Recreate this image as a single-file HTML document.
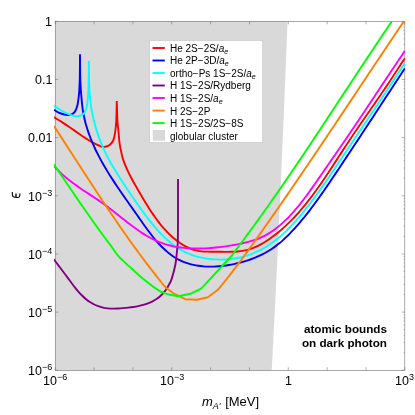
<!DOCTYPE html>
<html><head><meta charset="utf-8">
<style>
html,body{margin:0;padding:0;background:#fff;}
body{width:415px;height:415px;overflow:hidden;position:relative;font-family:"Liberation Sans",sans-serif;color:#000;}
svg{position:absolute;left:0;top:0;}
.t{position:absolute;will-change:transform;font-size:12.5px;line-height:1;white-space:nowrap;}
.t sup{font-size:9px;vertical-align:baseline;position:relative;top:-4.6px;}
.leg{position:absolute;will-change:transform;font-size:10px;line-height:1;white-space:nowrap;left:170.4px;}
.leg i sub{font-size:7px;vertical-align:baseline;position:relative;top:2px;}
</style></head><body>
<svg width="415" height="415" viewBox="0 0 415 415">
<rect x="0" y="0" width="415" height="415" fill="#fff"/>
<polygon points="55.25,21.3 287.5,21.3 286,60 284.4,100 282.7,140 280,200 277.3,260 274.6,315 271.7,370.3 55.25,370.3" fill="#d9d9d9"/>
<g stroke="#7a7a7a" stroke-width="0.6" fill="none">
<path d="M55.25,370.30 v-3 M55.25,21.30 v3"/>
<path d="M94.09,370.30 v-3 M94.09,21.30 v3"/>
<path d="M132.93,370.30 v-3 M132.93,21.30 v3"/>
<path d="M171.77,370.30 v-3 M171.77,21.30 v3"/>
<path d="M210.61,370.30 v-3 M210.61,21.30 v3"/>
<path d="M249.44,370.30 v-3 M249.44,21.30 v3"/>
<path d="M288.28,370.30 v-3 M288.28,21.30 v3"/>
<path d="M327.12,370.30 v-3 M327.12,21.30 v3"/>
<path d="M365.96,370.30 v-3 M365.96,21.30 v3"/>
<path d="M404.80,370.30 v-3 M404.80,21.30 v3"/>
<path d="M55.25,21.30 h3 M404.80,21.30 h-3"/>
<path d="M55.25,79.47 h3 M404.80,79.47 h-3"/>
<path d="M55.25,137.63 h3 M404.80,137.63 h-3"/>
<path d="M55.25,195.80 h3 M404.80,195.80 h-3"/>
<path d="M55.25,253.97 h3 M404.80,253.97 h-3"/>
<path d="M55.25,312.13 h3 M404.80,312.13 h-3"/>
<path d="M55.25,370.30 h3 M404.80,370.30 h-3"/>
<path d="M404.80,61.96 h-1.6" opacity="0.6"/>
<path d="M404.80,51.71 h-1.6" opacity="0.6"/>
<path d="M404.80,44.45 h-1.6" opacity="0.6"/>
<path d="M404.80,38.81 h-1.6" opacity="0.6"/>
<path d="M404.80,34.20 h-1.6" opacity="0.6"/>
<path d="M404.80,30.31 h-1.6" opacity="0.6"/>
<path d="M404.80,26.94 h-1.6" opacity="0.6"/>
<path d="M404.80,23.96 h-1.6" opacity="0.6"/>
<path d="M404.80,120.12 h-1.6" opacity="0.6"/>
<path d="M404.80,109.88 h-1.6" opacity="0.6"/>
<path d="M404.80,102.61 h-1.6" opacity="0.6"/>
<path d="M404.80,96.98 h-1.6" opacity="0.6"/>
<path d="M404.80,92.37 h-1.6" opacity="0.6"/>
<path d="M404.80,88.48 h-1.6" opacity="0.6"/>
<path d="M404.80,85.10 h-1.6" opacity="0.6"/>
<path d="M404.80,82.13 h-1.6" opacity="0.6"/>
<path d="M404.80,178.29 h-1.6" opacity="0.6"/>
<path d="M404.80,168.05 h-1.6" opacity="0.6"/>
<path d="M404.80,160.78 h-1.6" opacity="0.6"/>
<path d="M404.80,155.14 h-1.6" opacity="0.6"/>
<path d="M404.80,150.54 h-1.6" opacity="0.6"/>
<path d="M404.80,146.64 h-1.6" opacity="0.6"/>
<path d="M404.80,143.27 h-1.6" opacity="0.6"/>
<path d="M404.80,140.29 h-1.6" opacity="0.6"/>
<path d="M404.80,236.46 h-1.6" opacity="0.6"/>
<path d="M404.80,226.21 h-1.6" opacity="0.6"/>
<path d="M404.80,218.95 h-1.6" opacity="0.6"/>
<path d="M404.80,213.31 h-1.6" opacity="0.6"/>
<path d="M404.80,208.70 h-1.6" opacity="0.6"/>
<path d="M404.80,204.81 h-1.6" opacity="0.6"/>
<path d="M404.80,201.44 h-1.6" opacity="0.6"/>
<path d="M404.80,198.46 h-1.6" opacity="0.6"/>
<path d="M404.80,294.62 h-1.6" opacity="0.6"/>
<path d="M404.80,284.38 h-1.6" opacity="0.6"/>
<path d="M404.80,277.11 h-1.6" opacity="0.6"/>
<path d="M404.80,271.48 h-1.6" opacity="0.6"/>
<path d="M404.80,266.87 h-1.6" opacity="0.6"/>
<path d="M404.80,262.98 h-1.6" opacity="0.6"/>
<path d="M404.80,259.60 h-1.6" opacity="0.6"/>
<path d="M404.80,256.63 h-1.6" opacity="0.6"/>
<path d="M404.80,352.79 h-1.6" opacity="0.6"/>
<path d="M404.80,342.55 h-1.6" opacity="0.6"/>
<path d="M404.80,335.28 h-1.6" opacity="0.6"/>
<path d="M404.80,329.64 h-1.6" opacity="0.6"/>
<path d="M404.80,325.04 h-1.6" opacity="0.6"/>
<path d="M404.80,321.14 h-1.6" opacity="0.6"/>
<path d="M404.80,317.77 h-1.6" opacity="0.6"/>
<path d="M404.80,314.79 h-1.6" opacity="0.6"/>
</g>
<rect x="55.25" y="21.3" width="349.55" height="349.0" fill="none" stroke="#707070" stroke-width="0.6"/>
<defs><clipPath id="c"><rect x="54.0" y="20.6" width="351.5" height="349.9"/></clipPath></defs>
<g clip-path="url(#c)" fill="none" stroke-width="1.9" stroke-linejoin="round" stroke-linecap="butt">
<path d="M53.80,117.04 C54.51,117.49 56.64,118.83 58.06,119.72 C59.47,120.60 60.89,121.47 62.30,122.37 C63.71,123.27 65.10,124.19 66.50,125.13 C67.90,126.06 69.30,127.01 70.69,127.96 C72.09,128.92 73.48,129.88 74.88,130.85 C76.27,131.82 77.67,132.79 79.07,133.76 C80.48,134.73 81.88,135.71 83.30,136.67 C84.71,137.64 86.13,138.62 87.57,139.54 C89.00,140.47 90.44,141.40 91.91,142.20 C93.37,143.01 94.85,143.70 96.35,144.38 C97.85,145.06 99.43,145.90 100.90,146.30 C102.37,146.70 103.75,147.03 105.20,146.80 C106.65,146.57 108.27,145.95 109.60,144.90 C110.93,143.85 112.28,142.55 113.20,140.50 C114.12,138.45 114.59,135.85 115.10,132.60 C115.61,129.35 115.97,126.25 116.25,121.00 C116.53,115.75 116.71,104.42 116.80,101.10 M116.80,101.10 C116.91,104.42 117.15,115.75 117.45,121.00 C117.75,126.25 118.22,128.73 118.60,132.60 C118.97,136.47 119.15,140.47 119.70,144.20 C120.25,147.93 121.31,152.38 121.90,155.00 C122.49,157.62 122.74,158.33 123.26,159.92 C123.77,161.51 124.38,163.02 125.00,164.55 C125.61,166.08 126.27,167.60 126.95,169.10 C127.62,170.61 128.34,172.10 129.07,173.59 C129.81,175.08 130.57,176.56 131.35,178.04 C132.12,179.51 132.93,180.98 133.74,182.44 C134.55,183.91 135.38,185.37 136.22,186.83 C137.05,188.29 137.90,189.75 138.75,191.21 C139.60,192.67 140.46,194.13 141.32,195.59 C142.18,197.05 143.04,198.52 143.91,199.97 C144.78,201.43 145.66,202.89 146.55,204.33 C147.44,205.78 148.34,207.22 149.25,208.65 C150.17,210.08 151.09,211.50 152.04,212.90 C152.98,214.30 153.93,215.70 154.91,217.07 C155.89,218.44 156.88,219.80 157.90,221.14 C158.91,222.48 159.95,223.80 161.01,225.09 C162.07,226.38 163.16,227.65 164.27,228.89 C165.38,230.13 166.52,231.35 167.68,232.54 C168.85,233.72 170.05,234.88 171.28,236.00 C172.50,237.12 173.76,238.21 175.06,239.26 C176.35,240.31 177.68,241.34 179.05,242.30 C180.41,243.27 181.82,244.21 183.25,245.07 C184.69,245.93 186.15,246.74 187.65,247.45 C189.15,248.17 190.68,248.81 192.24,249.34 C193.79,249.88 195.38,250.30 196.99,250.64 C198.60,250.97 200.24,251.18 201.89,251.35 C203.54,251.52 205.22,251.59 206.90,251.65 C208.59,251.72 210.30,251.71 212.00,251.72 C213.71,251.74 215.43,251.72 217.15,251.74 C218.87,251.75 220.60,251.79 222.32,251.81 C224.05,251.83 225.77,251.87 227.49,251.87 C229.20,251.87 230.92,251.87 232.62,251.81 C234.32,251.75 236.01,251.67 237.68,251.52 C239.36,251.38 241.02,251.19 242.66,250.91 C244.30,250.63 245.92,250.29 247.52,249.87 C249.11,249.44 250.69,248.93 252.24,248.35 C253.79,247.78 255.32,247.13 256.83,246.43 C258.34,245.72 259.82,244.95 261.29,244.14 C262.75,243.34 264.19,242.47 265.62,241.57 C267.04,240.67 268.44,239.72 269.82,238.76 C271.20,237.79 272.55,236.79 273.89,235.77 C275.23,234.76 276.55,233.72 277.84,232.66 C279.14,231.60 280.42,230.53 281.68,229.43 C282.94,228.34 284.18,227.22 285.40,226.09 C286.62,224.96 287.83,223.82 289.02,222.65 C290.21,221.49 291.38,220.31 292.53,219.11 C293.69,217.92 294.83,216.71 295.96,215.49 C297.08,214.26 298.19,213.02 299.29,211.77 C300.39,210.52 301.48,209.26 302.55,207.98 C303.62,206.70 304.68,205.42 305.73,204.12 C306.78,202.82 307.81,201.51 308.84,200.19 C309.87,198.87 310.88,197.53 311.89,196.20 C312.89,194.86 313.89,193.51 314.88,192.15 C315.87,190.80 316.84,189.43 317.82,188.06 C318.79,186.69 319.75,185.31 320.71,183.93 C321.67,182.55 322.62,181.16 323.57,179.76 C324.51,178.37 325.46,176.97 326.39,175.57 C327.33,174.16 328.26,172.76 329.19,171.35 C330.12,169.94 331.04,168.52 331.97,167.11 C332.89,165.70 333.81,164.28 334.73,162.86 C335.65,161.45 336.56,160.03 337.48,158.61 C338.40,157.20 339.32,155.78 340.23,154.37 C341.15,152.95 342.07,151.54 342.99,150.13 C343.91,148.72 344.83,147.31 345.75,145.90 C346.68,144.50 347.61,143.09 348.54,141.70 C349.47,140.30 350.40,138.90 351.33,137.51 C352.27,136.12 353.21,134.73 354.14,133.34 C355.08,131.96 356.03,130.57 356.97,129.19 C357.91,127.81 358.86,126.43 359.80,125.05 C360.75,123.67 361.69,122.30 362.64,120.92 C363.59,119.54 364.54,118.17 365.49,116.80 C366.43,115.42 367.38,114.05 368.33,112.67 C369.28,111.30 370.23,109.93 371.18,108.55 C372.13,107.18 373.08,105.81 374.03,104.43 C374.98,103.06 375.93,101.68 376.88,100.31 C377.82,98.93 378.77,97.55 379.71,96.17 C380.66,94.80 381.60,93.41 382.54,92.03 C383.49,90.65 384.43,89.26 385.37,87.88 C386.30,86.49 387.24,85.10 388.17,83.70 C389.11,82.31 390.04,80.91 390.97,79.51 C391.89,78.11 392.82,76.71 393.74,75.30 C394.67,73.90 395.59,72.49 396.50,71.07 C397.42,69.65 398.33,68.23 399.24,66.81 C400.15,65.38 401.02,63.92 401.95,62.52 C402.88,61.12 404.33,59.09 404.80,58.40" stroke="#ff0000"/>
<path d="M53.80,109.71 C54.61,110.19 56.88,111.80 58.66,112.60 C60.43,113.39 62.54,114.09 64.45,114.48 C66.35,114.86 68.41,115.28 70.10,114.90 C71.79,114.52 73.40,113.72 74.60,112.20 C75.80,110.68 76.58,108.67 77.30,105.80 C78.02,102.93 78.53,98.47 78.90,95.00 C79.28,91.53 79.39,88.32 79.55,85.00 C79.71,81.68 79.77,80.22 79.85,75.10 C79.92,69.98 79.97,57.77 80.00,54.30 M80.00,54.30 C80.03,57.77 80.11,69.98 80.20,75.10 C80.29,80.22 80.38,81.68 80.55,85.00 C80.72,88.32 80.89,90.93 81.25,95.00 C81.61,99.07 82.08,105.07 82.70,109.40 C83.33,113.73 84.38,118.22 85.00,121.00 C85.62,123.78 85.92,124.43 86.41,126.07 C86.89,127.71 87.38,129.25 87.90,130.83 C88.42,132.40 88.97,133.96 89.55,135.52 C90.12,137.07 90.72,138.61 91.34,140.14 C91.96,141.68 92.61,143.20 93.27,144.71 C93.94,146.23 94.63,147.73 95.33,149.23 C96.04,150.73 96.77,152.21 97.51,153.69 C98.26,155.18 99.03,156.65 99.81,158.11 C100.59,159.58 101.39,161.04 102.20,162.49 C103.01,163.94 103.84,165.39 104.69,166.82 C105.53,168.26 106.39,169.70 107.26,171.13 C108.13,172.55 109.01,173.98 109.90,175.39 C110.80,176.81 111.70,178.22 112.62,179.63 C113.53,181.04 114.45,182.45 115.39,183.85 C116.32,185.25 117.26,186.65 118.20,188.04 C119.15,189.44 120.10,190.83 121.06,192.22 C122.02,193.61 122.99,195.00 123.95,196.39 C124.92,197.77 125.89,199.16 126.86,200.54 C127.84,201.93 128.81,203.31 129.79,204.69 C130.76,206.07 131.74,207.46 132.72,208.84 C133.69,210.22 134.67,211.60 135.64,212.99 C136.61,214.37 137.58,215.76 138.55,217.14 C139.52,218.52 140.48,219.91 141.45,221.29 C142.42,222.67 143.38,224.06 144.36,225.43 C145.34,226.80 146.32,228.16 147.31,229.52 C148.31,230.87 149.31,232.22 150.33,233.54 C151.35,234.87 152.38,236.19 153.44,237.48 C154.50,238.78 155.57,240.06 156.67,241.32 C157.77,242.57 158.89,243.81 160.05,245.02 C161.20,246.23 162.38,247.41 163.59,248.56 C164.80,249.70 166.04,250.82 167.31,251.89 C168.58,252.96 169.88,253.99 171.21,254.95 C172.54,255.92 173.90,256.84 175.30,257.70 C176.70,258.55 178.13,259.34 179.59,260.07 C181.05,260.79 182.55,261.44 184.07,262.04 C185.60,262.63 187.15,263.16 188.72,263.63 C190.29,264.10 191.89,264.51 193.51,264.87 C195.12,265.22 196.76,265.52 198.41,265.76 C200.06,266.01 201.73,266.19 203.40,266.33 C205.08,266.48 206.76,266.56 208.45,266.61 C210.14,266.65 211.85,266.64 213.54,266.59 C215.24,266.55 216.95,266.45 218.65,266.32 C220.35,266.19 222.06,266.01 223.75,265.80 C225.45,265.58 227.15,265.33 228.83,265.05 C230.52,264.76 232.20,264.44 233.87,264.09 C235.54,263.73 237.20,263.35 238.85,262.93 C240.49,262.52 242.13,262.08 243.74,261.60 C245.36,261.13 246.96,260.62 248.55,260.08 C250.13,259.55 251.71,258.98 253.26,258.38 C254.81,257.77 256.34,257.14 257.86,256.47 C259.37,255.79 260.87,255.09 262.34,254.35 C263.82,253.60 265.27,252.82 266.70,252.00 C268.13,251.19 269.54,250.33 270.93,249.44 C272.32,248.54 273.68,247.60 275.02,246.63 C276.35,245.66 277.67,244.64 278.96,243.59 C280.25,242.54 281.52,241.46 282.77,240.35 C284.02,239.24 285.24,238.09 286.45,236.93 C287.66,235.77 288.85,234.58 290.03,233.37 C291.20,232.16 292.36,230.93 293.50,229.69 C294.64,228.45 295.77,227.19 296.88,225.92 C297.99,224.66 299.09,223.38 300.18,222.10 C301.27,220.81 302.34,219.52 303.41,218.22 C304.47,216.92 305.52,215.61 306.56,214.30 C307.61,212.98 308.64,211.66 309.66,210.33 C310.68,209.00 311.69,207.66 312.70,206.32 C313.70,204.98 314.70,203.63 315.69,202.28 C316.68,200.93 317.66,199.57 318.63,198.21 C319.61,196.84 320.57,195.48 321.54,194.11 C322.50,192.74 323.46,191.36 324.41,189.98 C325.36,188.61 326.31,187.23 327.25,185.84 C328.20,184.46 329.14,183.07 330.08,181.69 C331.02,180.30 331.95,178.91 332.89,177.52 C333.83,176.13 334.76,174.74 335.69,173.35 C336.62,171.96 337.56,170.57 338.49,169.17 C339.42,167.78 340.35,166.39 341.28,165.00 C342.21,163.60 343.14,162.21 344.06,160.81 C344.99,159.42 345.92,158.02 346.85,156.63 C347.77,155.23 348.70,153.84 349.62,152.44 C350.55,151.04 351.47,149.65 352.40,148.25 C353.32,146.85 354.25,145.45 355.17,144.06 C356.09,142.66 357.01,141.26 357.94,139.86 C358.86,138.46 359.78,137.06 360.70,135.66 C361.62,134.26 362.54,132.86 363.46,131.46 C364.38,130.06 365.30,128.66 366.22,127.26 C367.14,125.86 368.06,124.46 368.98,123.06 C369.90,121.66 370.82,120.26 371.74,118.86 C372.66,117.46 373.57,116.06 374.49,114.65 C375.41,113.25 376.33,111.85 377.25,110.45 C378.17,109.05 379.08,107.65 380.00,106.24 C380.92,104.84 381.84,103.44 382.75,102.04 C383.67,100.64 384.59,99.23 385.51,97.83 C386.43,96.43 387.34,95.03 388.26,93.63 C389.18,92.22 390.10,90.82 391.02,89.42 C391.93,88.02 392.85,86.62 393.77,85.21 C394.69,83.81 395.61,82.41 396.53,81.01 C397.45,79.61 398.37,78.21 399.29,76.81 C400.21,75.41 401.13,74.00 402.05,72.60 C402.97,71.20 404.34,69.10 404.80,68.40" stroke="#0000ff"/>
<path d="M53.80,105.82 C54.49,106.25 56.43,107.51 57.91,108.43 C59.39,109.34 61.03,110.39 62.70,111.31 C64.38,112.23 66.20,113.20 67.97,113.94 C69.74,114.67 71.61,115.32 73.32,115.72 C75.02,116.11 76.49,116.59 78.20,116.30 C79.91,116.01 82.25,115.30 83.60,114.00 C84.95,112.70 85.59,111.07 86.30,108.50 C87.01,105.93 87.50,101.68 87.85,98.60 C88.20,95.52 88.26,93.02 88.40,90.00 C88.54,86.98 88.60,85.33 88.68,80.50 C88.76,75.67 88.86,64.25 88.90,61.00 M88.90,61.00 C88.93,64.25 89.01,75.67 89.10,80.50 C89.19,85.33 89.31,87.33 89.45,90.00 C89.59,92.67 89.68,93.67 89.95,96.50 C90.22,99.33 90.49,103.23 91.10,107.00 C91.71,110.77 92.99,116.26 93.60,119.10 C94.21,121.94 94.32,122.42 94.74,124.05 C95.16,125.67 95.64,127.27 96.12,128.87 C96.60,130.47 97.11,132.06 97.64,133.64 C98.18,135.22 98.73,136.80 99.31,138.36 C99.89,139.92 100.50,141.48 101.12,143.02 C101.75,144.56 102.40,146.10 103.07,147.62 C103.75,149.14 104.44,150.65 105.16,152.15 C105.87,153.65 106.61,155.13 107.37,156.61 C108.13,158.08 108.91,159.55 109.71,161.00 C110.50,162.46 111.32,163.90 112.15,165.33 C112.98,166.77 113.83,168.19 114.69,169.61 C115.55,171.04 116.42,172.45 117.30,173.85 C118.18,175.26 119.08,176.66 119.97,178.06 C120.87,179.46 121.78,180.85 122.70,182.24 C123.61,183.63 124.53,185.02 125.45,186.41 C126.37,187.80 127.29,189.18 128.22,190.57 C129.15,191.95 130.09,193.34 131.02,194.72 C131.96,196.10 132.91,197.48 133.86,198.86 C134.81,200.24 135.76,201.62 136.72,202.99 C137.69,204.37 138.66,205.74 139.63,207.11 C140.61,208.48 141.59,209.85 142.59,211.22 C143.58,212.59 144.58,213.95 145.59,215.31 C146.60,216.67 147.62,218.02 148.66,219.36 C149.69,220.70 150.74,222.03 151.80,223.35 C152.86,224.66 153.93,225.96 155.03,227.24 C156.12,228.52 157.22,229.79 158.35,231.02 C159.47,232.26 160.62,233.48 161.78,234.67 C162.94,235.85 164.13,237.02 165.33,238.14 C166.54,239.27 167.76,240.37 169.01,241.43 C170.26,242.49 171.54,243.52 172.84,244.50 C174.14,245.49 175.46,246.44 176.82,247.34 C178.17,248.24 179.55,249.10 180.96,249.90 C182.37,250.71 183.81,251.48 185.28,252.18 C186.76,252.89 188.26,253.55 189.79,254.15 C191.32,254.75 192.88,255.30 194.47,255.80 C196.05,256.30 197.66,256.75 199.29,257.15 C200.91,257.55 202.56,257.89 204.22,258.19 C205.88,258.49 207.56,258.74 209.25,258.94 C210.93,259.15 212.63,259.30 214.33,259.41 C216.04,259.51 217.75,259.57 219.46,259.59 C221.17,259.60 222.89,259.57 224.60,259.49 C226.31,259.41 228.02,259.29 229.71,259.11 C231.41,258.94 233.10,258.72 234.78,258.45 C236.45,258.19 238.12,257.87 239.76,257.51 C241.41,257.15 243.04,256.74 244.64,256.29 C246.24,255.83 247.82,255.33 249.38,254.78 C250.93,254.23 252.47,253.64 253.98,253.00 C255.49,252.36 256.97,251.68 258.44,250.96 C259.90,250.24 261.35,249.48 262.77,248.68 C264.19,247.88 265.59,247.05 266.97,246.18 C268.36,245.31 269.72,244.40 271.06,243.46 C272.40,242.53 273.72,241.55 275.03,240.55 C276.33,239.55 277.62,238.52 278.89,237.47 C280.16,236.41 281.41,235.32 282.64,234.21 C283.88,233.11 285.09,231.97 286.30,230.82 C287.50,229.66 288.68,228.48 289.86,227.28 C291.03,226.09 292.18,224.87 293.33,223.64 C294.47,222.41 295.60,221.15 296.71,219.89 C297.83,218.63 298.93,217.35 300.02,216.06 C301.11,214.77 302.19,213.47 303.25,212.16 C304.32,210.85 305.38,209.53 306.42,208.20 C307.46,206.88 308.50,205.54 309.52,204.21 C310.55,202.87 311.56,201.53 312.57,200.19 C313.57,198.84 314.57,197.50 315.56,196.15 C316.55,194.80 317.53,193.44 318.50,192.08 C319.48,190.73 320.44,189.37 321.41,188.00 C322.37,186.64 323.32,185.27 324.27,183.91 C325.22,182.54 326.17,181.17 327.11,179.79 C328.05,178.42 328.99,177.05 329.92,175.67 C330.85,174.29 331.78,172.92 332.71,171.54 C333.64,170.16 334.56,168.77 335.48,167.39 C336.41,166.01 337.33,164.63 338.25,163.24 C339.17,161.86 340.09,160.47 341.01,159.09 C341.94,157.70 342.86,156.32 343.78,154.93 C344.70,153.55 345.63,152.16 346.55,150.78 C347.48,149.39 348.40,148.00 349.33,146.62 C350.25,145.23 351.18,143.85 352.11,142.46 C353.04,141.07 353.97,139.69 354.90,138.30 C355.83,136.92 356.76,135.53 357.69,134.14 C358.62,132.75 359.55,131.37 360.48,129.98 C361.41,128.59 362.34,127.21 363.27,125.82 C364.20,124.43 365.14,123.04 366.07,121.65 C367.00,120.27 367.93,118.88 368.86,117.49 C369.79,116.10 370.72,114.71 371.65,113.32 C372.58,111.93 373.51,110.55 374.44,109.16 C375.37,107.77 376.30,106.38 377.23,104.99 C378.16,103.60 379.09,102.21 380.01,100.81 C380.94,99.42 381.87,98.03 382.79,96.64 C383.72,95.25 384.64,93.86 385.56,92.47 C386.48,91.07 387.41,89.68 388.33,88.29 C389.25,86.90 390.16,85.50 391.08,84.11 C392.00,82.71 392.91,81.32 393.83,79.93 C394.74,78.53 395.65,77.14 396.56,75.74 C397.48,74.35 398.38,72.95 399.29,71.55 C400.20,70.16 401.09,68.76 402.00,67.36 C402.92,65.97 404.33,63.89 404.80,63.20" stroke="#00ffff"/>
<path d="M53.80,259.21 C54.30,259.89 55.80,261.92 56.81,263.26 C57.81,264.60 58.82,265.92 59.82,267.25 C60.83,268.59 61.83,269.92 62.83,271.26 C63.83,272.59 64.83,273.93 65.84,275.29 C66.84,276.64 67.84,278.00 68.86,279.36 C69.87,280.73 70.88,282.11 71.92,283.48 C72.95,284.85 73.99,286.22 75.05,287.57 C76.12,288.91 77.21,290.24 78.33,291.53 C79.45,292.81 80.60,294.07 81.79,295.26 C82.99,296.46 84.21,297.61 85.50,298.69 C86.78,299.76 88.11,300.78 89.48,301.70 C90.86,302.63 92.28,303.48 93.74,304.24 C95.20,304.99 96.71,305.67 98.24,306.23 C99.78,306.79 101.36,307.25 102.96,307.61 C104.56,307.96 106.20,308.19 107.85,308.36 C109.50,308.52 111.19,308.58 112.87,308.59 C114.56,308.61 116.27,308.55 117.98,308.47 C119.68,308.39 121.40,308.27 123.11,308.13 C124.82,308.00 126.53,307.85 128.24,307.67 C129.94,307.48 131.64,307.28 133.32,307.02 C135.00,306.77 136.68,306.49 138.34,306.14 C139.99,305.79 141.64,305.41 143.26,304.95 C144.88,304.48 146.48,303.96 148.04,303.36 C149.59,302.75 151.13,302.08 152.59,301.32 C154.06,300.56 155.49,299.72 156.84,298.79 C158.19,297.87 159.48,296.85 160.69,295.75 C161.89,294.65 163.02,293.45 164.07,292.19 C165.12,290.92 166.09,289.57 166.99,288.16 C167.89,286.75 168.69,285.29 169.48,283.75 C170.26,282.21 170.71,282.11 171.70,278.90 C172.69,275.69 174.50,269.32 175.40,264.50 C176.30,259.68 176.70,253.80 177.10,250.00 C177.50,246.20 177.65,246.70 177.80,241.70 C177.95,236.70 177.97,230.47 178.00,220.00 C178.03,209.53 178.00,185.75 178.00,178.90" stroke="#800080"/>
<path d="M53.80,165.83 C54.39,166.45 56.13,168.35 57.33,169.57 C58.53,170.78 59.76,171.98 61.00,173.14 C62.24,174.29 63.50,175.41 64.77,176.50 C66.04,177.59 67.33,178.64 68.63,179.68 C69.92,180.71 71.24,181.71 72.56,182.70 C73.88,183.69 75.22,184.65 76.56,185.60 C77.91,186.56 79.26,187.49 80.62,188.42 C81.97,189.35 83.34,190.26 84.71,191.17 C86.08,192.09 87.45,192.99 88.83,193.90 C90.20,194.81 91.58,195.71 92.96,196.63 C94.34,197.54 95.72,198.46 97.09,199.39 C98.47,200.32 99.84,201.26 101.21,202.22 C102.58,203.17 103.95,204.15 105.31,205.14 C106.67,206.13 108.02,207.15 109.37,208.17 C110.72,209.20 112.07,210.24 113.41,211.29 C114.76,212.34 116.10,213.41 117.44,214.47 C118.78,215.53 120.12,216.60 121.47,217.67 C122.81,218.73 124.15,219.80 125.50,220.86 C126.85,221.91 128.20,222.97 129.55,224.01 C130.91,225.04 132.27,226.07 133.64,227.08 C135.01,228.09 136.38,229.08 137.77,230.05 C139.15,231.02 140.54,231.97 141.95,232.88 C143.35,233.80 144.76,234.69 146.19,235.55 C147.62,236.40 149.06,237.23 150.51,238.01 C151.96,238.79 153.43,239.54 154.92,240.23 C156.40,240.93 157.90,241.59 159.42,242.19 C160.94,242.80 162.47,243.35 164.02,243.86 C165.58,244.37 167.15,244.83 168.73,245.24 C170.31,245.66 171.91,246.03 173.52,246.36 C175.13,246.69 176.76,246.97 178.39,247.22 C180.03,247.47 181.67,247.68 183.32,247.85 C184.98,248.02 186.64,248.16 188.31,248.26 C189.97,248.37 191.65,248.44 193.33,248.48 C195.01,248.52 196.69,248.53 198.38,248.52 C200.07,248.50 201.76,248.45 203.45,248.39 C205.14,248.32 206.83,248.23 208.52,248.12 C210.21,248.01 211.89,247.87 213.58,247.72 C215.26,247.57 216.95,247.39 218.63,247.20 C220.31,247.01 221.99,246.80 223.66,246.57 C225.34,246.35 227.01,246.10 228.67,245.84 C230.34,245.57 232.00,245.29 233.66,245.00 C235.32,244.70 236.98,244.39 238.62,244.06 C240.27,243.73 241.92,243.39 243.55,243.02 C245.18,242.65 246.81,242.27 248.42,241.84 C250.03,241.41 251.62,240.95 253.20,240.45 C254.77,239.94 256.33,239.40 257.85,238.80 C259.38,238.20 260.89,237.55 262.36,236.84 C263.84,236.13 265.29,235.37 266.72,234.57 C268.15,233.76 269.55,232.90 270.93,232.01 C272.30,231.11 273.66,230.16 274.99,229.18 C276.32,228.20 277.63,227.18 278.91,226.12 C280.20,225.07 281.46,223.98 282.71,222.86 C283.95,221.74 285.17,220.58 286.37,219.40 C287.58,218.23 288.76,217.02 289.92,215.79 C291.08,214.57 292.23,213.32 293.35,212.05 C294.48,210.79 295.59,209.50 296.68,208.21 C297.77,206.92 298.84,205.60 299.90,204.29 C300.95,202.97 301.99,201.64 303.02,200.31 C304.05,198.98 305.06,197.63 306.06,196.29 C307.06,194.94 308.05,193.59 309.03,192.23 C310.02,190.88 310.99,189.51 311.95,188.15 C312.92,186.78 313.87,185.41 314.83,184.04 C315.78,182.67 316.73,181.30 317.68,179.92 C318.63,178.55 319.58,177.17 320.52,175.80 C321.47,174.42 322.42,173.05 323.37,171.67 C324.32,170.30 325.27,168.92 326.22,167.55 C327.17,166.18 328.12,164.80 329.07,163.43 C330.02,162.05 330.98,160.68 331.93,159.30 C332.88,157.93 333.83,156.55 334.79,155.18 C335.74,153.80 336.69,152.43 337.64,151.05 C338.59,149.67 339.54,148.30 340.49,146.92 C341.44,145.54 342.39,144.16 343.34,142.78 C344.28,141.40 345.23,140.02 346.18,138.64 C347.12,137.26 348.06,135.88 349.01,134.49 C349.95,133.11 350.89,131.73 351.83,130.34 C352.77,128.95 353.70,127.57 354.64,126.18 C355.57,124.79 356.51,123.40 357.44,122.01 C358.37,120.62 359.31,119.23 360.24,117.84 C361.17,116.45 362.10,115.06 363.03,113.67 C363.95,112.27 364.88,110.88 365.81,109.49 C366.74,108.09 367.66,106.70 368.59,105.31 C369.52,103.91 370.44,102.52 371.37,101.12 C372.29,99.73 373.22,98.33 374.14,96.94 C375.07,95.54 375.99,94.15 376.92,92.75 C377.84,91.36 378.77,89.96 379.69,88.57 C380.62,87.17 381.54,85.78 382.47,84.38 C383.39,82.99 384.32,81.59 385.24,80.20 C386.17,78.81 387.10,77.41 388.03,76.02 C388.95,74.63 389.88,73.23 390.81,71.84 C391.74,70.45 392.67,69.06 393.60,67.67 C394.53,66.28 395.46,64.89 396.40,63.50 C397.33,62.11 398.27,60.72 399.20,59.34 C400.14,57.95 401.08,56.57 402.02,55.18 C402.95,53.79 404.34,51.70 404.80,51.00" stroke="#ff00ff"/>
<path d="M53.80,125.93 C54.28,126.63 55.74,128.71 56.68,130.12 C57.62,131.53 58.52,132.96 59.44,134.38 C60.36,135.80 61.28,137.22 62.19,138.64 C63.11,140.06 64.03,141.48 64.95,142.90 C65.86,144.32 66.78,145.74 67.70,147.16 C68.61,148.59 69.53,150.01 70.45,151.43 C71.36,152.85 72.28,154.28 73.20,155.70 C74.11,157.12 75.03,158.54 75.95,159.97 C76.86,161.39 77.78,162.81 78.70,164.23 C79.61,165.65 80.53,167.08 81.45,168.50 C82.37,169.92 83.29,171.34 84.21,172.76 C85.13,174.18 86.05,175.60 86.97,177.02 C87.89,178.44 88.81,179.86 89.73,181.28 C90.66,182.70 91.58,184.12 92.51,185.53 C93.43,186.95 94.36,188.37 95.28,189.78 C96.21,191.20 97.14,192.61 98.07,194.03 C99.00,195.44 99.93,196.85 100.87,198.26 C101.80,199.68 102.74,201.09 103.67,202.49 C104.61,203.90 105.55,205.31 106.49,206.72 C107.43,208.12 108.37,209.53 109.32,210.93 C110.26,212.34 111.21,213.74 112.16,215.14 C113.11,216.54 114.06,217.94 115.01,219.33 C115.96,220.73 116.92,222.13 117.88,223.52 C118.84,224.91 119.80,226.30 120.76,227.69 C121.72,229.08 122.69,230.47 123.66,231.86 C124.63,233.24 125.60,234.63 126.58,236.01 C127.55,237.39 128.53,238.77 129.51,240.15 C130.49,241.52 131.48,242.90 132.46,244.27 C133.45,245.64 134.44,247.01 135.44,248.38 C136.43,249.75 137.43,251.11 138.43,252.47 C139.43,253.83 140.44,255.19 141.44,256.55 C142.45,257.91 143.47,259.26 144.48,260.61 C145.50,261.96 146.52,263.31 147.54,264.66 C148.57,266.00 149.60,267.34 150.63,268.68 C151.66,270.02 152.70,271.36 153.74,272.69 C154.78,274.02 155.83,275.35 156.88,276.68 C157.93,278.01 158.98,279.33 160.04,280.65 C161.10,281.97 162.13,283.32 163.24,284.59 C164.34,285.87 166.12,287.68 166.70,288.30 L174.00,293.70 L185.20,299.20 L197.00,299.70 L207.90,297.20 L218.10,289.60 L229.00,276.10 L240.00,261.70 C240.49,261.02 241.95,258.98 242.93,257.62 C243.91,256.26 244.89,254.91 245.88,253.55 C246.86,252.20 247.84,250.84 248.82,249.48 C249.79,248.12 250.77,246.76 251.75,245.40 C252.72,244.04 253.70,242.68 254.67,241.32 C255.65,239.96 256.62,238.60 257.59,237.23 C258.56,235.87 259.53,234.50 260.50,233.14 C261.47,231.77 262.44,230.41 263.40,229.04 C264.37,227.67 265.33,226.31 266.30,224.94 C267.26,223.57 268.23,222.20 269.19,220.83 C270.15,219.46 271.11,218.09 272.07,216.72 C273.03,215.35 273.99,213.97 274.95,212.60 C275.90,211.23 276.86,209.85 277.82,208.48 C278.77,207.11 279.73,205.73 280.68,204.36 C281.64,202.98 282.59,201.60 283.54,200.23 C284.49,198.85 285.44,197.47 286.39,196.10 C287.35,194.72 288.29,193.34 289.24,191.96 C290.19,190.58 291.14,189.20 292.09,187.82 C293.03,186.44 293.98,185.06 294.93,183.68 C295.87,182.30 296.82,180.91 297.76,179.53 C298.70,178.15 299.65,176.77 300.59,175.38 C301.53,174.00 302.47,172.62 303.41,171.23 C304.36,169.85 305.30,168.46 306.24,167.08 C307.18,165.69 308.11,164.31 309.05,162.92 C309.99,161.53 310.93,160.15 311.87,158.76 C312.80,157.37 313.74,155.99 314.68,154.60 C315.61,153.21 316.55,151.82 317.48,150.44 C318.42,149.05 319.35,147.66 320.29,146.27 C321.22,144.88 322.16,143.49 323.09,142.10 C324.02,140.71 324.96,139.32 325.89,137.93 C326.82,136.54 327.75,135.15 328.69,133.76 C329.62,132.37 330.55,130.98 331.48,129.59 C332.41,128.20 333.34,126.80 334.27,125.41 C335.20,124.02 336.13,122.63 337.06,121.24 C337.99,119.85 338.92,118.45 339.85,117.06 C340.78,115.67 341.71,114.28 342.64,112.88 C343.57,111.49 344.50,110.10 345.43,108.70 C346.36,107.31 347.28,105.92 348.21,104.53 C349.14,103.13 350.07,101.74 351.00,100.35 C351.93,98.95 352.85,97.56 353.78,96.17 C354.71,94.77 355.64,93.38 356.57,91.99 C357.49,90.59 358.42,89.20 359.35,87.81 C360.28,86.41 361.20,85.02 362.13,83.63 C363.06,82.23 363.99,80.84 364.92,79.45 C365.84,78.05 366.77,76.66 367.70,75.27 C368.63,73.87 369.56,72.48 370.49,71.09 C371.41,69.69 372.34,68.30 373.27,66.91 C374.20,65.52 375.13,64.12 376.06,62.73 C376.99,61.34 377.92,59.95 378.85,58.55 C379.78,57.16 380.71,55.77 381.64,54.38 C382.57,52.99 383.50,51.59 384.43,50.20 C385.36,48.81 386.29,47.42 387.22,46.03 C388.15,44.64 389.09,43.25 390.02,41.86 C390.95,40.47 391.88,39.08 392.82,37.69 C393.75,36.30 394.68,34.91 395.62,33.52 C396.55,32.13 397.48,30.74 398.42,29.35 C399.35,27.96 400.29,26.58 401.23,25.19 C402.16,23.79 403.54,21.70 404.00,21.00" stroke="#ff8000"/>
<path d="M53.80,164.27 C54.28,164.98 55.73,167.11 56.70,168.53 C57.67,169.95 58.63,171.37 59.60,172.79 C60.56,174.21 61.53,175.63 62.49,177.05 C63.46,178.47 64.43,179.89 65.39,181.31 C66.36,182.73 67.32,184.15 68.29,185.57 C69.25,186.99 70.22,188.41 71.19,189.83 C72.15,191.25 73.12,192.67 74.09,194.09 C75.06,195.51 76.03,196.93 77.00,198.34 C77.97,199.76 78.95,201.18 79.92,202.59 C80.89,204.00 81.87,205.42 82.85,206.83 C83.83,208.24 84.81,209.65 85.79,211.06 C86.77,212.47 87.75,213.88 88.74,215.29 C89.73,216.69 90.71,218.10 91.71,219.50 C92.70,220.90 93.69,222.30 94.69,223.70 C95.69,225.10 96.69,226.49 97.69,227.88 C98.69,229.28 99.70,230.67 100.71,232.06 C101.72,233.44 102.74,234.83 103.76,236.21 C104.77,237.59 105.78,238.98 106.82,240.35 C107.86,241.71 109.47,243.72 110.00,244.40 C111.57,246.53 115.75,253.13 119.40,257.20 C123.05,261.27 127.85,265.12 131.90,268.80 C135.95,272.48 140.05,276.25 143.70,279.30 C147.35,282.35 150.70,284.92 153.80,287.10 C156.90,289.28 159.60,291.12 162.30,292.40 C165.00,293.68 168.72,294.40 170.00,294.80 L178.40,296.30 L190.20,293.80 L201.20,288.70 L232.40,255.00 C232.88,254.31 234.28,252.20 235.27,250.84 C236.26,249.47 237.31,248.15 238.32,246.80 C239.34,245.46 240.35,244.11 241.36,242.76 C242.37,241.41 243.38,240.06 244.39,238.70 C245.39,237.35 246.40,236.00 247.40,234.64 C248.40,233.28 249.40,231.92 250.39,230.56 C251.39,229.21 252.39,227.84 253.38,226.48 C254.37,225.12 255.36,223.75 256.35,222.39 C257.34,221.02 258.32,219.66 259.31,218.29 C260.29,216.92 261.27,215.55 262.25,214.18 C263.23,212.81 264.21,211.43 265.19,210.06 C266.16,208.68 267.14,207.31 268.11,205.93 C269.08,204.56 270.06,203.18 271.02,201.80 C271.99,200.42 272.96,199.04 273.93,197.66 C274.89,196.28 275.86,194.90 276.82,193.51 C277.78,192.13 278.74,190.74 279.70,189.36 C280.66,187.97 281.62,186.58 282.58,185.20 C283.53,183.81 284.49,182.42 285.44,181.03 C286.40,179.64 287.35,178.25 288.30,176.86 C289.25,175.47 290.20,174.07 291.15,172.68 C292.10,171.29 293.05,169.89 293.99,168.50 C294.94,167.10 295.88,165.71 296.83,164.31 C297.77,162.91 298.71,161.51 299.66,160.12 C300.60,158.72 301.54,157.32 302.48,155.92 C303.42,154.52 304.36,153.12 305.29,151.72 C306.23,150.32 307.17,148.92 308.11,147.51 C309.04,146.11 309.98,144.71 310.91,143.31 C311.85,141.90 312.78,140.50 313.71,139.09 C314.65,137.69 315.58,136.28 316.51,134.88 C317.44,133.47 318.37,132.07 319.30,130.66 C320.24,129.26 321.17,127.85 322.10,126.44 C323.03,125.04 323.95,123.63 324.88,122.22 C325.81,120.82 326.74,119.41 327.67,118.00 C328.60,116.59 329.52,115.18 330.45,113.78 C331.38,112.37 332.31,110.96 333.23,109.55 C334.16,108.14 335.09,106.73 336.01,105.32 C336.94,103.92 337.87,102.51 338.79,101.10 C339.72,99.69 340.65,98.28 341.57,96.87 C342.50,95.46 343.43,94.05 344.35,92.64 C345.28,91.24 346.21,89.83 347.13,88.42 C348.06,87.01 348.99,85.60 349.91,84.19 C350.84,82.78 351.77,81.38 352.70,79.97 C353.62,78.56 354.55,77.15 355.48,75.74 C356.41,74.34 357.34,72.93 358.27,71.52 C359.20,70.12 360.13,68.71 361.06,67.30 C361.99,65.90 362.92,64.49 363.85,63.08 C364.78,61.68 365.71,60.27 366.64,58.87 C367.57,57.46 368.51,56.06 369.44,54.66 C370.37,53.25 371.31,51.85 372.24,50.45 C373.18,49.04 374.11,47.64 375.05,46.24 C375.99,44.84 376.92,43.44 377.86,42.04 C378.80,40.63 379.74,39.24 380.68,37.84 C381.62,36.44 382.56,35.04 383.51,33.64 C384.45,32.24 385.39,30.85 386.34,29.45 C387.28,28.05 388.24,26.67 389.17,25.26 C390.10,23.86 391.45,21.71 391.90,21.00" stroke="#00ff00"/>
</g>
<!-- legend -->
<rect x="149.6" y="40.4" width="113.1" height="102.2" fill="#fff" stroke="#cccccc" stroke-width="0.8"/>
<g stroke-width="1.9" fill="none">
<path d="M152.5,48 h12.3" stroke="#ff0000"/>
<path d="M152.5,60.5 h12.3" stroke="#0000ff"/>
<path d="M152.5,73 h12.3" stroke="#00ffff"/>
<path d="M152.5,85.5 h12.3" stroke="#800080"/>
<path d="M152.5,98 h12.3" stroke="#ff00ff"/>
<path d="M152.5,110.6 h12.3" stroke="#ff8000"/>
<path d="M152.5,123.1 h12.3" stroke="#00ff00"/>
</g>
<rect x="153.0" y="130.2" width="11.9" height="10.3" fill="#d9d9d9" stroke="#d0d0d0" stroke-width="0.4"/>
<path d="M12.25,192.0 L12.45,195.0 C12.6,196.6 13.4,197.25 14.9,197.3 L17.9,197.45 C19.3,197.45 19.8,196.8 19.85,195.6 L19.9,193.4" fill="none" stroke="#000" stroke-width="1.1"/>
<path d="M16.0,193.6 L16.0,197.3" fill="none" stroke="#000" stroke-width="1.3"/>
</svg>
<div class="leg" style="top:43.9px">He 2S−2S/<i>a<sub>e</sub></i></div>
<div class="leg" style="top:56.4px">He 2P−3D/<i>a<sub>e</sub></i></div>
<div class="leg" style="top:68.9px">ortho−Ps 1S−2S/<i>a<sub>e</sub></i></div>
<div class="leg" style="top:81.4px">H 1S−2S/Rydberg</div>
<div class="leg" style="top:93.9px">H 1S−2S/<i>a<sub>e</sub></i></div>
<div class="leg" style="top:106.5px">H 2S−2P</div>
<div class="leg" style="top:119.0px">H 1S−2S/2S−8S</div>
<div class="leg" style="top:131.5px">globular cluster</div>

<!-- y tick labels (right-aligned at x=52) -->
<div class="t" style="right:362.6px;top:15.9px">1</div>
<div class="t" style="right:362.6px;top:74.1px">0.1</div>
<div class="t" style="right:362.6px;top:132.3px">0.01</div>
<div class="t" style="right:362.6px;top:190.5px">10<sup>−3</sup></div>
<div class="t" style="right:362.6px;top:248.7px">10<sup>−4</sup></div>
<div class="t" style="right:362.6px;top:306.9px">10<sup>−5</sup></div>
<div class="t" style="right:362.6px;top:365.2px">10<sup>−6</sup></div>
<!-- x tick labels -->
<div class="t" style="left:43px;top:375.1px">10<sup>−6</sup></div>
<div class="t" style="left:159.5px;top:375.1px">10<sup>−3</sup></div>
<div class="t" style="left:284.8px;top:375.1px">1</div>
<div class="t" style="left:395.4px;top:375.1px">10<sup>3</sup></div>
<!-- axis labels -->
<div class="t" style="left:201.5px;top:395px;font-size:13px"><i>m<sub style="font-size:9px;vertical-align:baseline;position:relative;top:2.6px">A'</sub></i><span style="margin-left:4.6px">[MeV]</span></div>
<!-- annotation -->
<div style="will-change:transform;position:absolute;left:286.9px;width:100px;top:322.2px;text-align:right;font-weight:bold;font-size:11.7px;line-height:13.9px;white-space:nowrap">atomic bounds<br>on dark photon</div>
</body></html>
